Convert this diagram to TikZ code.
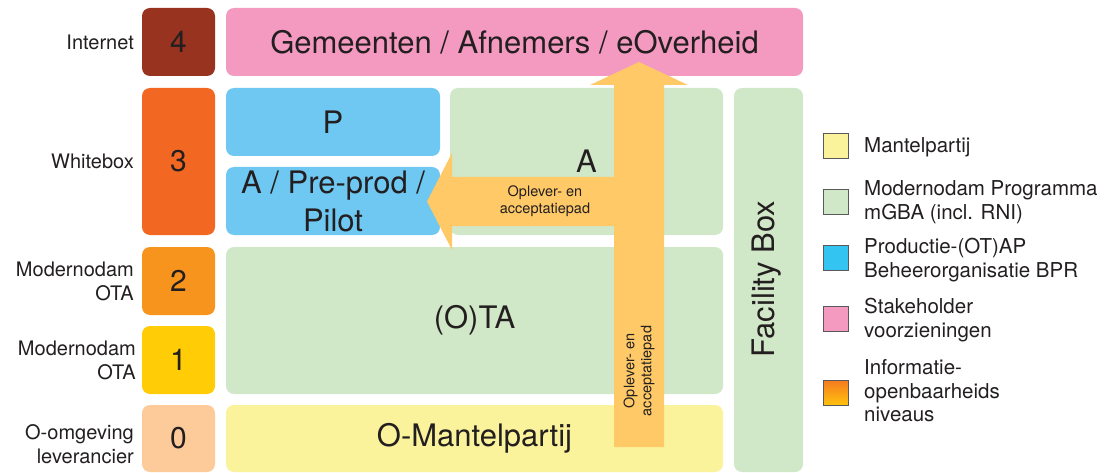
\documentclass[tikz,border=0pt]{standalone}
\usepackage{fontspec}
\setmainfont{TeX Gyre Heros}
\definecolor{txt}{HTML}{231F20}
\definecolor{lvlfour}{HTML}{97331F}
\definecolor{lvlthree}{HTML}{F26722}
\definecolor{lvltwo}{HTML}{F7941D}
\definecolor{lvlone}{HTML}{FFCC05}
\definecolor{lvlzero}{HTML}{FDCB9A}
\definecolor{pinkc}{HTML}{F49AC1}
\definecolor{bluec}{HTML}{6FC8F1}
\definecolor{bluelg}{HTML}{33C4F2}
\definecolor{greenc}{HTML}{D1E8C8}
\definecolor{yellowc}{HTML}{FAF39B}
\definecolor{arrowc}{HTML}{FEC966}
\definecolor{gradtop}{HTML}{F47B20}
\definecolor{gradbot}{HTML}{FFC20E}
\begin{document}
\begin{tikzpicture}[x=1pt,y=-1pt,
  blk/.style={rounded corners=8pt, inner sep=0pt, text=txt, align=center,
    font=\fontsize{31}{38}\selectfont},
  numbox/.style={blk, minimum width=73pt, font=\fontsize{30}{36}\selectfont},
  lbl/.style={anchor=east, align=right, inner sep=0pt, text=txt,
    font=\fontsize{20}{24}\selectfont},
  small/.style={align=center, inner sep=0pt, text=txt,
    font=\fontsize{14.5}{17}\selectfont},
  lgsq/.style={draw=black!65, line width=0.6pt, minimum width=25pt, minimum height=25pt, inner sep=0pt},
  lgtxt/.style={anchor=west, align=left, inner sep=0pt, text=txt,
    font=\fontsize{20.5}{23.5}\selectfont}
]
\useasboundingbox (0,0) rectangle (1110,473);

% level boxes
\node[numbox, fill=lvlfour, minimum height=68pt] (n4) at (178.5,42) {4};
\node[numbox, fill=lvlthree, minimum height=147pt] (n3) at (178.5,161.5) {3};
\node[numbox, fill=lvltwo, minimum height=68pt] (n2) at (178.5,281) {2};
\node[numbox, fill=lvlone, minimum height=68pt] (n1) at (178.5,360) {1};
\node[numbox, fill=lvlzero, minimum height=67pt] (n0) at (178.5,438.5) {0};

% level labels
\node[lbl] (l4) at (134,42) {Internet};
\node[lbl] (l3) at (134,161) {Whitebox};
\node[lbl] (l2) at (134,281) {Modernodam\\OTA};
\node[lbl] (l1) at (136,360) {Modernodam\\OTA};
\node[lbl] (l0) at (134,444) {O-omgeving\\leverancier};

% main boxes
\node[blk, fill=pinkc, minimum width=577pt, minimum height=68pt] (gem) at (514.5,42) {Gemeenten / Afnemers / eOverheid};
\node[blk, fill=bluec, minimum width=214pt, minimum height=68pt] (p) at (333,122) {P};
\node[blk, fill=bluec, minimum width=214pt, minimum height=68pt] (pre) at (333,201) {A / Pre-prod /\\Pilot};
\node[blk, fill=greenc, minimum width=273pt, minimum height=147pt] (a) at (586.5,161.5) {A};
\node[blk, fill=greenc, minimum width=497pt, minimum height=147pt] (ota) at (474.5,320.5) {(O)TA};
\node[blk, fill=yellowc, minimum width=497pt, minimum height=67pt] (om) at (474.5,438.5) {O-Mantelpartij};
\node[blk, fill=greenc, minimum width=69pt, minimum height=384pt] (fb) at (768.5,280) {};
\node[text=txt, rotate=90, font=\fontsize{31}{38}\selectfont, inner sep=0pt] (fbt) at (767,279) {Facility Box};

% block arrow
\fill[arrowc] (614,447) -- (614,226) -- (452,226) -- (452,250) -- (427,201.5) -- (452,153)
  -- (452,177) -- (614,177) -- (614,85) -- (590,85) -- (639,62) -- (688,85) -- (664,85)
  -- (664,447) -- cycle;
\node[small] (ha) at (545,201) {Oplever- en\\acceptatiepad};
\node[small, rotate=90] (va) at (639,371) {Oplever- en\\acceptatiepad};

% legend
\node[lgsq, fill=yellowc] (sq1) at (835.5,145.5) {};
\node[lgsq, fill=greenc] (sq2) at (835.5,202) {};
\node[lgsq, fill=bluelg] (sq3) at (835.5,258) {};
\node[lgsq, fill=pinkc] (sq4) at (835.5,318.5) {};
\node[lgsq, top color=gradtop, bottom color=gradbot] (sq5) at (835.5,392.5) {};
\node[lgtxt] (t1) at (864,147) {Mantelpartij};
\node[lgtxt] (t2) at (864,202) {Modernodam Programma\\mGBA (incl. RNI)};
\node[lgtxt] (t3) at (864,260) {Productie-(OT)AP\\Beheerorganisatie BPR};
\node[lgtxt] (t4) at (864,320) {Stakeholder\\voorzieningen};
\node[lgtxt] (t5) at (864,391) {Informatie-\\openbaarheids\\niveaus};
\end{tikzpicture}
\end{document}
